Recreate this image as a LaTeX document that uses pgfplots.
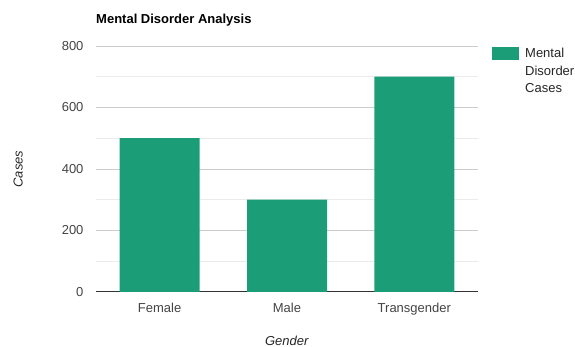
\documentclass[border=0pt]{standalone}
\usepackage{fontspec}
\setmainfont{Liberation Sans}
\usepackage{pgfplots}
\pgfplotsset{compat=1.18}
\definecolor{barc}{HTML}{1B9E77}
\definecolor{tickc}{HTML}{444444}
\definecolor{gridc}{HTML}{CCCCCC}
\definecolor{minorc}{HTML}{EBEBEB}
\begin{document}
\begin{tikzpicture}
\path[use as bounding box] (0,0) rectangle (575pt,347pt);
\begin{axis}[
  at={(96pt,55pt)}, anchor=south west,
  scale only axis, width=382pt, height=246pt,
  xmin=-0.5, xmax=2.5, ymin=0, ymax=800,
  xtick=data, xticklabels={Female,Male,Transgender},
  ytick={200,400,600,800}, minor ytick={100,300,500,700},
  extra y ticks={0},
  extra y tick style={ymajorgrids=true, major grid style={draw=black!80, line width=1pt}},
  ymajorgrids, yminorgrids,
  major grid style={draw=gridc, line width=0.8pt},
  minor grid style={draw=minorc, line width=0.8pt},
  axis line style={draw=none},
  major tick length=0pt, minor tick length=0pt,
  /pgf/number format/assume math mode=true,
  tick label style={font=\fontsize{13}{15}\selectfont, text=tickc},
  yticklabel style={xshift=-9pt},
  xticklabel style={yshift=-8pt},
  title={\textbf{Mental Disorder Analysis}},
  title style={at={(axis description cs:0,1.069)}, anchor=base west, inner sep=0pt, font=\fontsize{13}{15}\selectfont},
  xlabel={\textit{Gender}},
  xlabel style={at={(axis description cs:0.5,-0.2)}, anchor=center, font=\fontsize{13}{15}\selectfont, text=black!85},
  ylabel={\textit{Cases}},
  ylabel style={at={(axis description cs:-0.204,0.5)}, anchor=center, font=\fontsize{13}{15}\selectfont, text=black!85},
  legend style={at={(axis description cs:1.0366,1)}, anchor=north west, draw=none, inner sep=0pt,
    font=\fontsize{13}{17.5}\selectfont, text=black!85, cells={align=left},
    /tikz/every odd column/.append style={column sep=4pt}},
  legend image code/.code={\fill[#1] (0pt,11.5pt) rectangle (27pt,24.5pt);},
]
\addplot[ybar, bar width=80pt, bar shift=0pt, fill=barc, draw=none] coordinates {(0,500) (1,300) (2,700)};
\addlegendentry{Mental\\Disorder\\Cases}
\end{axis}
\end{tikzpicture}
\end{document}
